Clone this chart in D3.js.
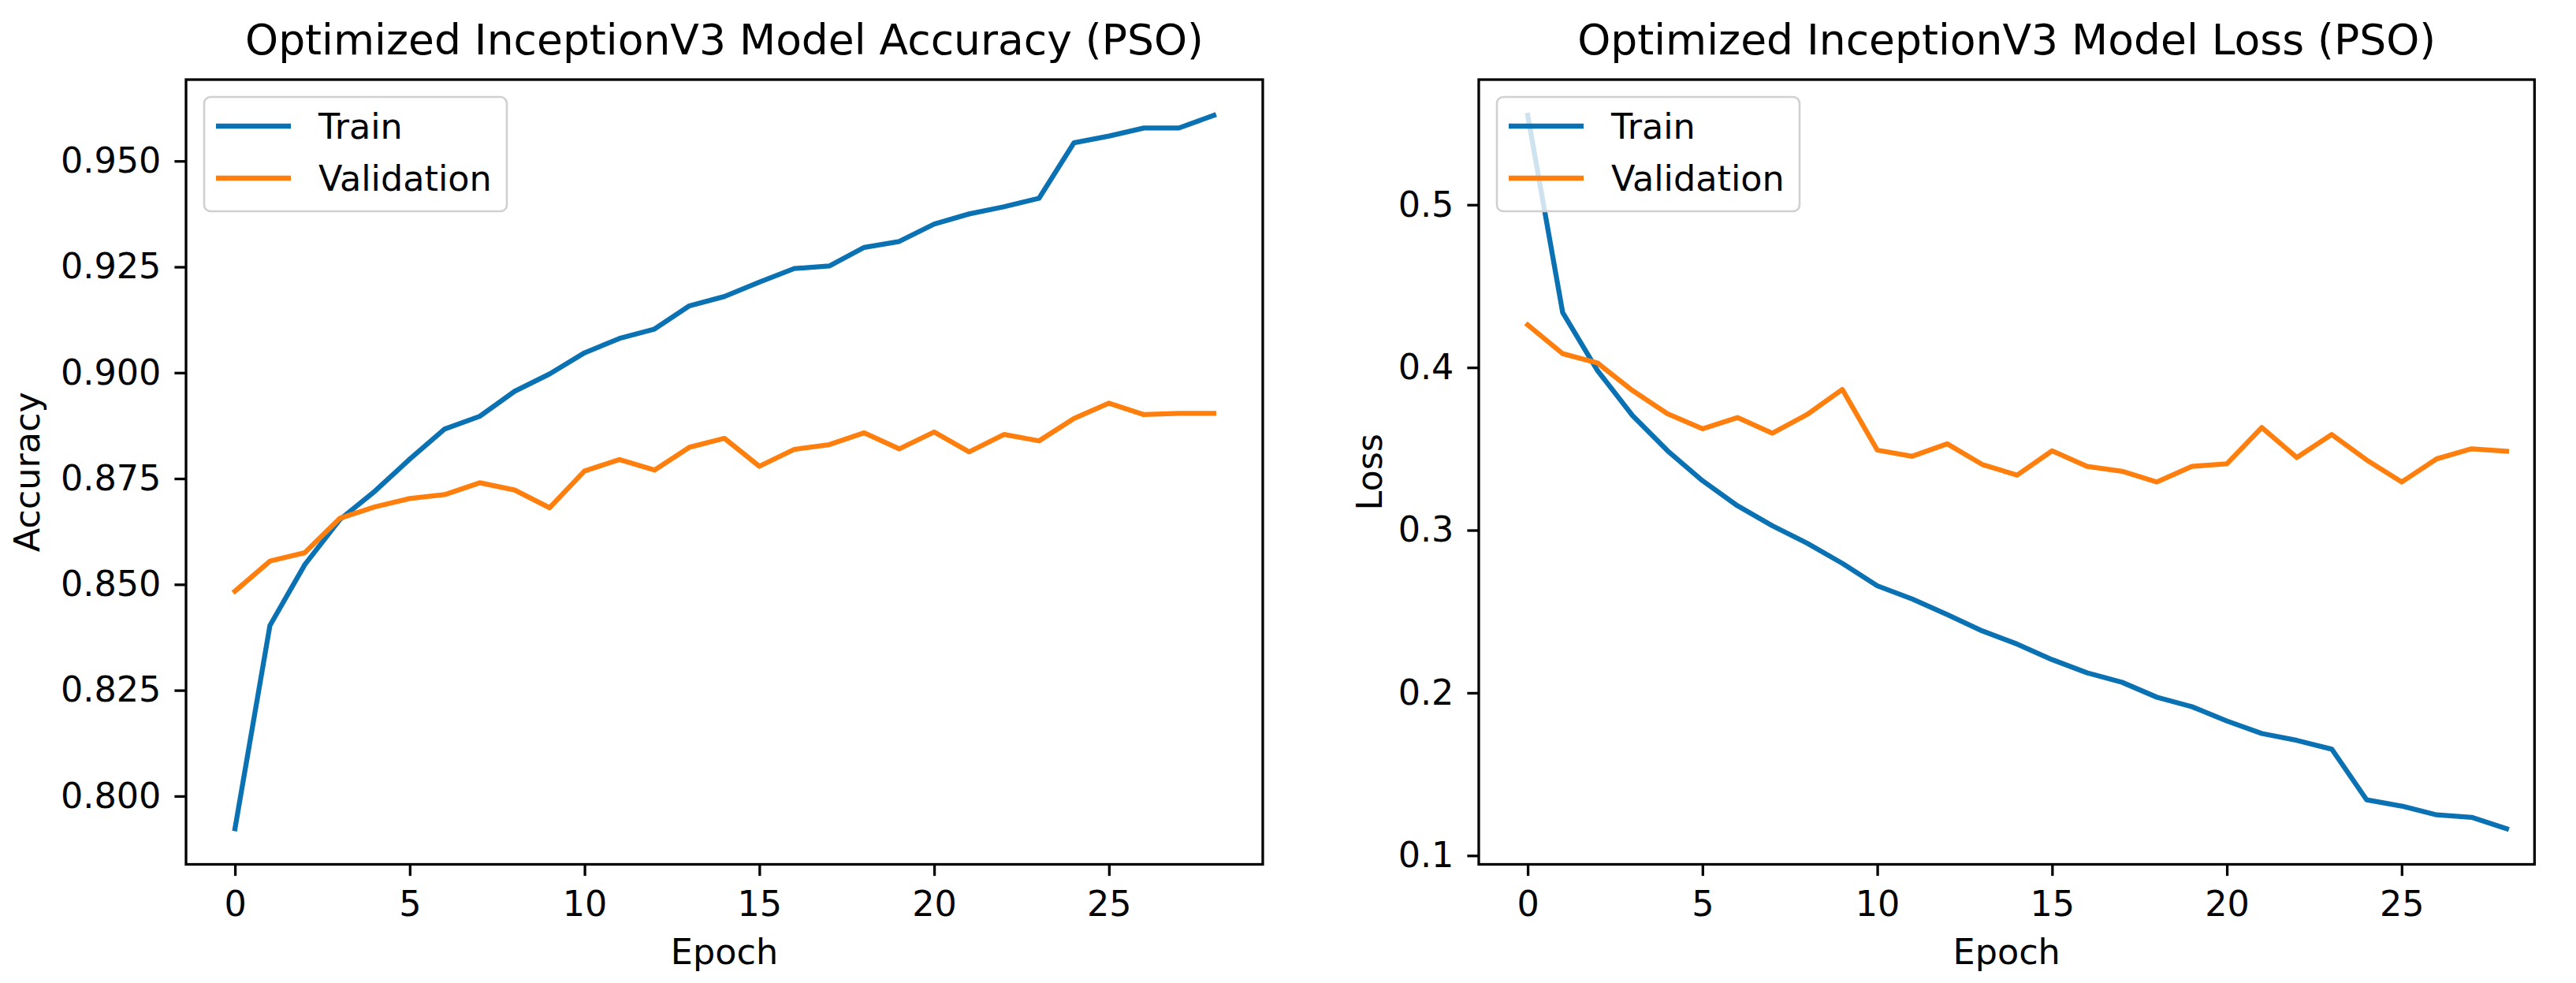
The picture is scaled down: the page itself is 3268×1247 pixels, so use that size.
<!DOCTYPE html>
<html lang="en">
  <head>
    <meta charset="UTF-8" />
    <title>InceptionV3 PSO</title>
    <script src="https://d3js.org/d3.v7.min.js"></script>
    <style>
      body { margin: 0; background: #fff; }
      text { font-family: "DejaVu Sans", sans-serif; }
    </style>
  </head>
  <body>
    <svg width="3268" height="1247"></svg>
    <script>
      let epochs = d3.range(0, 29);
      let accTrain = [0.7923, 0.8403, 0.8547, 0.8653, 0.872, 0.8796, 0.8867, 0.8897, 0.8956, 0.8997,
        0.9047, 0.9081, 0.9103, 0.9158, 0.918, 0.9214, 0.9246, 0.9252, 0.9296, 0.931,
        0.9351, 0.9375, 0.9392, 0.9412, 0.9543, 0.9559, 0.9578, 0.9578, 0.9608];
      let accVal = [0.8484, 0.8555, 0.8575, 0.8656, 0.8683, 0.8703, 0.8712, 0.874, 0.8723, 0.8681,
        0.8768, 0.8795, 0.877, 0.8824, 0.8845, 0.8779, 0.8819, 0.883, 0.8858, 0.882,
        0.886, 0.8813, 0.8854, 0.8839, 0.8892, 0.8928, 0.8901, 0.8904, 0.8904];
      let lossTrain = [0.555, 0.4338, 0.398, 0.3704, 0.3488, 0.3304, 0.315, 0.3027, 0.2919, 0.2796,
        0.2658, 0.2577, 0.2481, 0.2381, 0.23, 0.2204, 0.2123, 0.2065, 0.1973, 0.1915,
        0.1827, 0.175, 0.1708, 0.1654, 0.1342, 0.1304, 0.125, 0.1235, 0.1165];
      let lossVal = [0.4262, 0.4085, 0.4027, 0.3858, 0.3715, 0.3623, 0.3692, 0.3596, 0.3712, 0.3865,
        0.3492, 0.3454, 0.3531, 0.3404, 0.3338, 0.3488, 0.3392, 0.3362, 0.3296, 0.3392,
        0.3408, 0.3631, 0.3446, 0.3588, 0.3431, 0.3296, 0.3438, 0.35, 0.3485];
      let xTicks = [0, 5, 10, 15, 20, 25];
      let accTicks = [0.8, 0.825, 0.85, 0.875, 0.9, 0.925, 0.95];
      let lossTicks = [0.1, 0.2, 0.3, 0.4, 0.5];
      let seriesNames = ["Train", "Validation"];

      let colors = ["#0a71b3", "#ff7f0e"];
      let svg = d3.select("svg");
      let pxPerEpoch = 44.35;

      function panel(opt) {
        let left = opt.left, top = 101, height = 995.5;
        let width = (opt.xMax + 1.4) * pxPerEpoch;
        let g = svg.append("g").attr("transform", "translate(" + left + "," + top + ")");

        // matplotlib style margins
        let xScale = d3.scaleLinear().domain([-1.4, opt.xMax]).range([0, width]);
        let all = opt.series[0].concat(opt.series[1]);
        let ext = d3.extent(all), pad = (ext[1] - ext[0]) * 0.05;
        let yScale = d3.scaleLinear().domain([ext[0] - pad, ext[1] + pad]).range([height, 0]);

        let line = d3.line().x((d, i) => xScale(epochs[i])).y((d) => yScale(d));
        opt.series.forEach((s, k) => {
          g.append("path")
            .datum(s)
            .attr("d", line)
            .attr("fill", "none")
            .attr("stroke", colors[k])
            .attr("stroke-width", 6.3)
            .attr("stroke-linejoin", "round")
            .attr("stroke-linecap", "square");
        });

        let xAxis = g.append("g")
          .attr("transform", "translate(0," + height + ")")
          .call(d3.axisBottom(xScale).tickValues(xTicks).tickSize(14.6).tickSizeOuter(0).tickPadding(19.3));
        let yAxis = g.append("g")
          .call(d3.axisLeft(yScale).tickValues(opt.ticks).tickFormat(d3.format(opt.fmt))
            .tickSize(14.6).tickSizeOuter(0).tickPadding(17));
        [xAxis, yAxis].forEach((a) => {
          a.select(".domain").remove();
          a.selectAll("line").attr("stroke", "#000").attr("stroke-width", 3.3);
          a.selectAll("text").attr("font-size", 44.5).attr("fill", "#000")
            .attr("font-family", "DejaVu Sans, sans-serif");
        });

        g.append("rect")
          .attr("width", width).attr("height", height)
          .attr("fill", "none").attr("stroke", "#000").attr("stroke-width", 3.3);

        g.append("text")
          .attr("x", width / 2).attr("y", 69 - top)
          .attr("text-anchor", "middle").attr("font-size", 53.5)
          .text(opt.title);
        g.append("text")
          .attr("x", width / 2).attr("y", 1223 - top)
          .attr("text-anchor", "middle").attr("font-size", 44.5)
          .text("Epoch");
        g.append("text")
          .attr("transform", "translate(" + (opt.ylabX - left) + "," + height / 2 + ") rotate(-90)")
          .attr("text-anchor", "middle").attr("font-size", 44.5)
          .text(opt.ylabel);

        // legend
        let lg = g.append("g").attr("transform", "translate(23,22)");
        lg.append("rect")
          .attr("width", 384).attr("height", 145).attr("rx", 8)
          .attr("fill", "#fff").attr("fill-opacity", 0.8)
          .attr("stroke", "#d0d0d0").attr("stroke-width", 2.6);
        seriesNames.forEach((n, k) => {
          let yy = 37 + k * 66;
          lg.append("line")
            .attr("x1", 15).attr("x2", 110).attr("y1", yy).attr("y2", yy)
            .attr("stroke", colors[k]).attr("stroke-width", 6.3);
          lg.append("text")
            .attr("x", 145).attr("y", yy + 16)
            .attr("font-size", 44.5)
            .text(n);
        });
      }

      panel({
        left: 236, xMax: 29.4, series: [accTrain, accVal], ticks: accTicks, fmt: ".3f",
        title: "Optimized InceptionV3 Model Accuracy (PSO)", ylabel: "Accuracy", ylabX: 50,
      });
      panel({
        left: 1876, xMax: 28.8, series: [lossTrain, lossVal], ticks: lossTicks, fmt: ".1f",
        title: "Optimized InceptionV3 Model Loss (PSO)", ylabel: "Loss", ylabX: 1753,
      });
    </script>
  </body>
</html>
